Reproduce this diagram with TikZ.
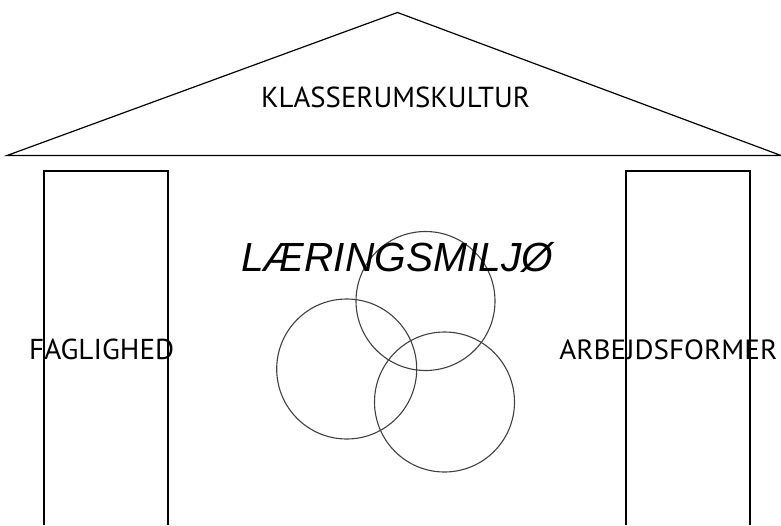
\documentclass[tikz,border=0pt]{standalone}
\usepackage{fontspec}
\setmainfont{PT Sans}
\newfontfamily\arialfont{Liberation Sans}
\begin{document}
\begin{tikzpicture}[x=1pt,y=-1pt,
  edge/.style={draw=black,line width=1.2pt},
  ring/.style={draw=black!75,line width=1.1pt},
  lbl/.style={inner sep=0pt,anchor=base}]
\useasboundingbox (0,0) rectangle (781,525);
% roof
\coordinate (apex) at (397.5,12.5);
\coordinate (bl) at (7,155.5);
\coordinate (br) at (781,155.5);
\draw[edge,line join=miter] (bl) -- (apex) -- (br) -- cycle;
% texts
\node[lbl] (klass) at (395.5,107.3) {\resizebox{269pt}{20.6pt}{\fontsize{30}{36}\selectfont KLASSERUMSKULTUR}};
\node[lbl] (fag) at (101.7,359) {\resizebox{145pt}{20.5pt}{\fontsize{28}{34}\selectfont FAGLIGHED}};
\node[lbl] (arb) at (668.3,359) {\resizebox{218pt}{19.8pt}{\fontsize{28}{34}\selectfont ARBEJDSFORMER}};
% pillars
\coordinate (lp1) at (44,525); \coordinate (lp2) at (44,171);
\coordinate (lp3) at (168,171); \coordinate (lp4) at (168,525);
\coordinate (rp1) at (626,525); \coordinate (rp2) at (626,171);
\coordinate (rp3) at (750,171); \coordinate (rp4) at (750,525);
\draw[edge] (lp1) -- (lp2) -- (lp3) -- (lp4);
\draw[edge] (rp1) -- (rp2) -- (rp3) -- (rp4);
% circles
\draw[ring] (425.5,301) circle[radius=69.5];
\draw[ring] (346.7,369) circle[radius=70];
\draw[ring] (444.5,402) circle[radius=70];
\node[lbl] (laer) at (397,271.7) {\resizebox{312pt}{!}{\arialfont\itshape\fontsize{39.5}{46}\selectfont LÆRINGSMILJØ}};
\end{tikzpicture}
\end{document}
